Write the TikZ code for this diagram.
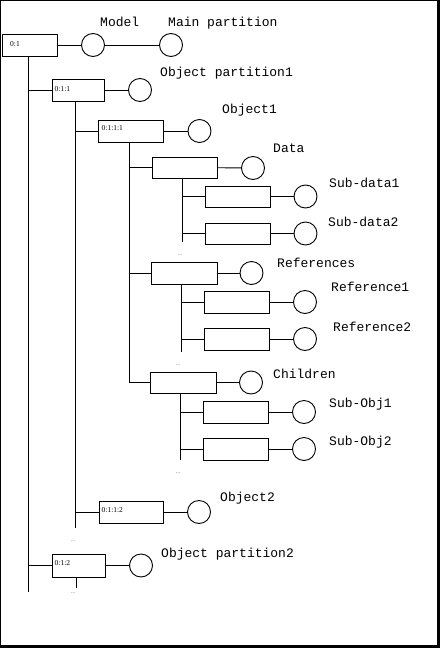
\documentclass[tikz,border=0pt]{standalone}
\usepackage{fontspec}
\setmainfont{Liberation Serif}
\newfontfamily\labfont{Liberation Mono}
\begin{document}
\begin{tikzpicture}[x=1pt,y=-1pt,
 rbox/.style={draw, line width=0.9pt, minimum height=22pt, inner sep=0pt, rectangle},
 circ/.style={draw, circle, line width=0.9pt, minimum size=23pt, inner sep=0pt},
 conn/.style={line width=0.9pt},
 lab/.style={anchor=base west, inner sep=0pt, font=\labfont\fontsize{13}{13}\selectfont},
 idx/.style={anchor=west, inner sep=0pt, font=\fontsize{7.5}{8}\selectfont},
 dotsl/.style={inner sep=0pt, font=\fontsize{6}{6}\selectfont, text=black!60}]
% frame
\fill[black] (0,0) rectangle (440,648);
\fill[white] (1,1) rectangle (437,645);
\useasboundingbox (0,0) rectangle (440,648);
% boxes
\node[rbox, minimum width=55pt] (b01) at (30,45) {};
\node[rbox, minimum width=52pt] (b011) at (78,90) {};
\node[rbox, minimum width=65pt] (b0111) at (130.5,131) {};
\node[rbox, minimum width=65pt, minimum height=21pt] (data) at (184.5,167.5) {};
\node[rbox, minimum width=65pt, minimum height=21pt] (sd1) at (237.5,196.5) {};
\node[rbox, minimum width=65pt, minimum height=21pt] (sd2) at (237.5,233.5) {};
\node[rbox, minimum width=66pt] (refs) at (184,273) {};
\node[rbox, minimum width=65pt] (r1) at (236.5,302) {};
\node[rbox, minimum width=65pt] (r2) at (236.5,339) {};
\node[rbox, minimum width=66pt, minimum height=21pt] (chl) at (183,382.5) {};
\node[rbox, minimum width=65pt] (so1) at (235.5,412) {};
\node[rbox, minimum width=65pt] (so2) at (235.5,449) {};
\node[rbox, minimum width=64pt] (b0112) at (131,512) {};
\node[rbox, minimum width=53pt, minimum height=23pt] (b012) at (78.5,565.5) {};
% box labels
\node[idx] (t01) at (10,44) {0:1};
\node[idx] (t011) at (54.5,89) {0:1:1};
\node[idx] (t0111) at (101.5,128.5) {0:1:1:1};
\node[idx] (t0112) at (101.5,510) {0:1:1:2};
\node[idx] (t012) at (54.5,563.5) {0:1:2};
% circles
\node[circ] (cmodel) at (93,45) {};
\node[circ] (cmain) at (171,45) {};
\node[circ] (c011) at (140,90) {};
\node[circ] (c0111) at (199.5,131) {};
\node[circ] (cdata) at (253,168) {};
\node[circ] (csd1) at (305.5,196.5) {};
\node[circ] (csd2) at (305.5,233.5) {};
\node[circ] (crefs) at (251.5,273) {};
\node[circ] (cr1) at (305,302) {};
\node[circ] (cr2) at (305,339) {};
\node[circ] (cchl) at (251,382.5) {};
\node[circ] (cso1) at (304,412) {};
\node[circ] (cso2) at (304,449) {};
\node[circ] (c0112) at (199,512) {};
\node[circ] (c012) at (141,565.5) {};
% horizontal connectors box -> circle
\draw[conn] (b01) -- (cmodel);
\draw[conn] (cmodel) -- (cmain);
\draw[conn] (b011) -- (c011);
\draw[conn] (b0111) -- (c0111);
\draw[conn] (data) -- (cdata);
\draw[conn] (sd1) -- (csd1);
\draw[conn] (sd2) -- (csd2);
\draw[conn] (refs) -- (crefs);
\draw[conn] (r1) -- (cr1);
\draw[conn] (r2) -- (cr2);
\draw[conn] (chl) -- (cchl);
\draw[conn] (so1) -- (cso1);
\draw[conn] (so2) -- (cso2);
\draw[conn] (b0112) -- (c0112);
\draw[conn] (b012) -- (c012);
% vertical trunks
\coordinate (v1) at (28,592);
\coordinate (v2) at (75,528);
\coordinate (v3) at (129,382.5);
\coordinate (v4) at (182,242);
\coordinate (v5) at (181,352);
\coordinate (v6) at (180,460);
\coordinate (v7) at (76,588);
\draw[conn] (b01.south -| v1) -- (v1);
\draw[conn] (b011.south -| v2) -- (v2);
\draw[conn] (b0111.south -| v3) -- (v3);
\draw[conn] (data.south -| v4) -- (v4);
\draw[conn] (refs.south -| v5) -- (v5);
\draw[conn] (chl.south -| v6) -- (v6);
\draw[conn] (b012.south -| v7) -- (v7);
% branches
\draw[conn] (v1 |- b011.west) -- (b011.west);
\draw[conn] (v1 |- b012.west) -- (b012.west);
\draw[conn] (v2 |- b0111.west) -- (b0111.west);
\draw[conn] (v2 |- b0112.west) -- (b0112.west);
\draw[conn] (v3 |- data.west) -- (data.west);
\draw[conn] (v3 |- refs.west) -- (refs.west);
\draw[conn] (v3 |- chl.west) -- (chl.west);
\draw[conn] (v4 |- sd1.west) -- (sd1.west);
\draw[conn] (v4 |- sd2.west) -- (sd2.west);
\draw[conn] (v5 |- r1.west) -- (r1.west);
\draw[conn] (v5 |- r2.west) -- (r2.west);
\draw[conn] (v6 |- so1.west) -- (so1.west);
\draw[conn] (v6 |- so2.west) -- (so2.west);
% dots
\node[dotsl] (d1) at (180,255) {...};
\node[dotsl] (d2) at (178,365) {...};
\node[dotsl] (d3) at (178,473) {...};
\node[dotsl] (d4) at (73,541) {...};
\node[dotsl] (d5) at (73,593) {...};
% text labels
\node[lab] (lmodel) at (100,26) {Model};
\node[lab] (lmain) at (168,26) {Main partition};
\node[lab] (lop1) at (160,76) {Object partition1};
\node[lab] (lo1) at (222,113) {Object1};
\node[lab] (ldata) at (273,152) {Data};
\node[lab] (lsd1) at (329,187) {Sub-data1};
\node[lab] (lsd2) at (328,226) {Sub-data2};
\node[lab] (lrefs) at (277,267) {References};
\node[lab] (lr1) at (331,291) {Reference1};
\node[lab] (lr2) at (333,331) {Reference2};
\node[lab] (lchl) at (273,378) {Children};
\node[lab] (lso1) at (329,407) {Sub-Obj1};
\node[lab] (lso2) at (329,445) {Sub-Obj2};
\node[lab] (lo2) at (220,501) {Object2};
\node[lab] (lop2) at (161,557) {Object partition2};
\end{tikzpicture}
\end{document}
